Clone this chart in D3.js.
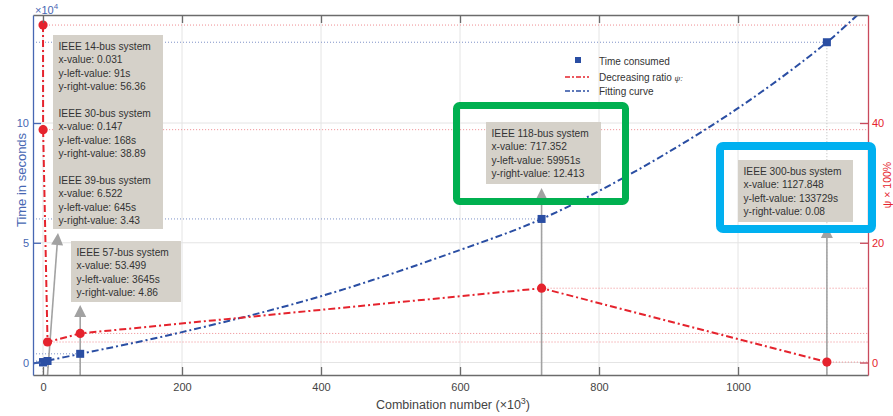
<!DOCTYPE html>
<html>
<head>
<meta charset="utf-8">
<script src="https://cdn.jsdelivr.net/npm/d3@7"></script>
<style>
  body { margin: 0; background: #fff; }
  svg { display: block; font-family: "Liberation Sans", Arial, sans-serif; }
</style>
</head>
<body>
<svg id="chart" width="893" height="416"></svg>
<script>
// Power-system test cases: combinations (x10^3), solve time (s), decreasing ratio psi (%)
const systems  = ["IEEE 14-bus system", "IEEE 30-bus system", "IEEE 39-bus system",
                  "IEEE 57-bus system", "IEEE 118-bus system", "IEEE 300-bus system"];
const combos   = [0.031, 0.147, 6.522, 53.499, 717.352, 1127.848];
const timeSec  = [91, 168, 645, 3645, 59951, 133729];
const ratioPct = [56.36, 38.89, 3.43, 4.86, 12.413, 0.08];

// Fitted time curve, sampled along its length
const fitX = [-14.4, 53.5, 200, 400, 600, 717.35, 850, 1000, 1127.85, 1187];
const fitY = [-400, 3600, 12700, 27700, 47000, 59950, 79500, 106200, 133700, 149300];

// Axis ticks
const xTicks     = [0, 200, 400, 600, 800, 1000];
const leftTicks  = [0, 50000, 100000];
const rightTicks = [0, 20, 40];

// Annotation groups (indices into the arrays above)
const noteGroups = [[0, 1, 2], [3], [4], [5]];

const BLUE = "#2a4ea3", RED = "#e5232d";
const AXBLUE = "#4767b3", AXRED = "#c94a5c";

const svg = d3.select("#chart");
const L = 33, R = 868, T = 15, B = 375;

const x  = d3.scaleLinear().domain([-14.4, 1187]).range([L, R]);
const yL = d3.scaleLinear().domain([-5200, 145100]).range([B, T]);
const yR = d3.scaleLinear().domain([-2.08, 58.04]).range([B, T]);

svg.append("defs").append("clipPath").attr("id", "plot")
  .append("rect").attr("x", L).attr("y", T).attr("width", R - L).attr("height", B - T);

// Grid
const grid = svg.append("g");
grid.selectAll("line.v").data(xTicks).join("line")
  .attr("x1", d => x(d)).attr("x2", d => x(d)).attr("y1", T).attr("y2", B)
  .attr("stroke", "#e4e4e4").attr("stroke-width", 1);
grid.selectAll("line.h").data(leftTicks).join("line")
  .attr("x1", L).attr("x2", R).attr("y1", d => yL(d)).attr("y2", d => yL(d))
  .attr("stroke", "#e4e4e4").attr("stroke-width", 1);

// Reference dotted lines
const refs = svg.append("g").attr("clip-path", "url(#plot)");
refs.selectAll("line.bt").data(combos).join("line")
  .attr("x1", L).attr("x2", (d) => x(d))
  .attr("y1", (d, i) => yL(timeSec[i])).attr("y2", (d, i) => yL(timeSec[i]))
  .attr("stroke", "#7e92c8").attr("stroke-width", 1).attr("stroke-dasharray", "1,2");
refs.selectAll("line.rr").data(combos).join("line")
  .attr("x1", d => x(d)).attr("x2", R)
  .attr("y1", (d, i) => yR(ratioPct[i])).attr("y2", (d, i) => yR(ratioPct[i]))
  .attr("stroke", "#ef8a8f").attr("stroke-width", 1).attr("stroke-dasharray", "1,2");
refs.selectAll("line.vt").data(combos).join("line")
  .attr("x1", d => x(d)).attr("x2", d => x(d))
  .attr("y1", (d, i) => yL(timeSec[i])).attr("y2", B)
  .attr("stroke", "#b8b8b8").attr("stroke-width", 1).attr("stroke-dasharray", "1,2");

// Arrows from the x axis up to the notes
const arrowTargets = [
  { from: combos[2], tipX: 58,              tipY: 233 },
  { from: combos[3], tipX: x(combos[3]),   tipY: 305 },
  { from: combos[4], tipX: x(combos[4]),   tipY: 188 },
  { from: combos[5], tipX: x(combos[5]),   tipY: 226 }
];
const arrows = svg.append("g");
arrowTargets.forEach(a => {
  const x0 = x(a.from), y0 = B;
  const dx = a.tipX - x0, dy = a.tipY - y0;
  const len = Math.hypot(dx, dy), ux = dx / len, uy = dy / len;
  const hl = 12, hw = 6;
  const bx = a.tipX - ux * hl, by = a.tipY - uy * hl;
  arrows.append("line").attr("x1", x0).attr("y1", y0).attr("x2", bx).attr("y2", by)
    .attr("stroke", "#a2a2a2").attr("stroke-width", 1.6);
  arrows.append("path")
    .attr("d", `M${a.tipX},${a.tipY}L${bx - uy * hw},${by + ux * hw}L${bx + uy * hw},${by - ux * hw}Z`)
    .attr("fill", "#a2a2a2");
});

// Curves
const plot = svg.append("g").attr("clip-path", "url(#plot)");
const fitLine = d3.line().x(d => x(d[0])).y(d => yL(d[1])).curve(d3.curveCatmullRom);
plot.append("path").datum(fitX.map((v, i) => [v, fitY[i]]))
  .attr("d", fitLine).attr("fill", "none").attr("stroke", BLUE)
  .attr("stroke-width", 2).attr("stroke-dasharray", "7,3,2,3");
const ratioLine = d3.line().x(d => x(d[0])).y(d => yR(d[1]));
plot.append("path").datum(combos.map((v, i) => [v, ratioPct[i]]))
  .attr("d", ratioLine).attr("fill", "none").attr("stroke", RED)
  .attr("stroke-width", 2).attr("stroke-dasharray", "7,3,2,3");

// Markers
svg.append("g").selectAll("rect").data(combos).join("rect")
  .attr("x", d => x(d) - 4).attr("y", (d, i) => yL(timeSec[i]) - 4)
  .attr("width", 8).attr("height", 8).attr("fill", BLUE);
svg.append("g").selectAll("circle").data(combos).join("circle")
  .attr("cx", d => x(d)).attr("cy", (d, i) => yR(ratioPct[i])).attr("r", 4.6)
  .attr("fill", RED);

// Axes
function styleAxis(g, color, textColor) {
  g.select(".domain").attr("stroke", color).attr("stroke-width", 1.3);
  g.selectAll(".tick line").attr("stroke", color).attr("stroke-width", 1.3);
  g.selectAll(".tick text").attr("fill", textColor).attr("font-size", 11)
    .attr("font-family", "Liberation Sans, Arial, sans-serif");
}
svg.append("g").attr("transform", `translate(0,${B})`)
  .call(d3.axisBottom(x).tickValues(xTicks).tickSize(-8).tickSizeOuter(0).tickPadding(8)
    .tickFormat(d3.format("d")))
  .call(g => styleAxis(g, "#6b6b6b", "#444"));
svg.append("g").attr("transform", `translate(0,${T})`)
  .call(d3.axisTop(x).tickValues(xTicks).tickSize(-8).tickSizeOuter(0).tickFormat(""))
  .call(g => styleAxis(g, "#6b6b6b", "#444"));
svg.append("g").attr("transform", `translate(${L},0)`)
  .call(d3.axisLeft(yL).tickValues(leftTicks).tickSize(-8).tickSizeOuter(0).tickPadding(4)
    .tickFormat(d => d / 10000))
  .call(g => styleAxis(g, AXBLUE, AXBLUE));
svg.append("g").attr("transform", `translate(${R},0)`)
  .call(d3.axisRight(yR).tickValues(rightTicks).tickSize(-8).tickSizeOuter(0).tickPadding(4))
  .call(g => styleAxis(g, AXRED, RED));

// Axis titles
const exp = svg.append("text").attr("x", 35).attr("y", 14).attr("fill", AXBLUE).attr("font-size", 11);
exp.append("tspan").text("\u00d710");
exp.append("tspan").attr("dy", -5).attr("font-size", 8).text("4");

svg.append("text").attr("transform", "translate(26,180) rotate(-90)")
  .attr("text-anchor", "middle").attr("fill", AXBLUE).attr("font-size", 13)
  .text("Time in seconds");
svg.append("text").attr("transform", "translate(891,185) rotate(-90)")
  .attr("text-anchor", "middle").attr("fill", RED).attr("font-size", 10.5)
  .text("\u03c8 \u00d7 100%");

const xt = svg.append("text").attr("x", 453).attr("y", 409).attr("text-anchor", "middle")
  .attr("fill", "#444").attr("font-size", 12.5);
xt.append("tspan").text("Combination number (\u00d710");
xt.append("tspan").attr("dy", -5).attr("font-size", 9).text("3");
xt.append("tspan").attr("dy", 5).text(")");

// Legend
const lg = svg.append("g").attr("font-size", 10).attr("fill", "#333");
lg.append("rect").attr("x", 575).attr("y", 57).attr("width", 6).attr("height", 6).attr("fill", BLUE);
lg.append("line").attr("x1", 565).attr("x2", 589).attr("y1", 77).attr("y2", 77)
  .attr("stroke", RED).attr("stroke-width", 1.5).attr("stroke-dasharray", "5,2,2,2");
lg.append("line").attr("x1", 565).attr("x2", 589).attr("y1", 91).attr("y2", 91)
  .attr("stroke", BLUE).attr("stroke-width", 1.5).attr("stroke-dasharray", "5,2,2,2");
lg.append("text").attr("x", 599).attr("y", 64.5).text("Time consumed");
const lgr = lg.append("text").attr("x", 599).attr("y", 80.5);
lgr.append("tspan").text("Decreasing ratio ");
lgr.append("tspan").attr("font-style", "italic").attr("font-size", 8).text("\u03c8:");
lg.append("text").attr("x", 599).attr("y", 95).text("Fitting curve");

// Note boxes
const boxes = [
  { x: 53,  y: 35,  w: 110, h: 194 },
  { x: 71,  y: 241, w: 110, h: 61 },
  { x: 486, y: 122, w: 115, h: 62 },
  { x: 738, y: 160, w: 115, h: 62 }
];
const lineH = 13.4;
noteGroups.forEach((grp, gi) => {
  const b = boxes[gi];
  const g = svg.append("g");
  g.append("rect").attr("x", b.x).attr("y", b.y).attr("width", b.w).attr("height", b.h)
    .attr("fill", "#d5d1c9");
  const lines = [];
  grp.forEach((idx, k) => {
    if (k > 0) lines.push("");
    lines.push(systems[idx]);
    lines.push(`x-value: ${combos[idx]}`);
    lines.push(`y-left-value: ${timeSec[idx]}s`);
    lines.push(`y-right-value: ${ratioPct[idx]}`);
  });
  g.selectAll("text").data(lines).join("text")
    .attr("x", b.x + 5.5).attr("y", (d, i) => b.y + 15 + i * lineH)
    .attr("font-size", 10.2).attr("fill", "#333").text(d => d);
});

// Highlight frames
svg.append("rect").attr("x", 456.5).attr("y", 105.5).attr("width", 169).attr("height", 96)
  .attr("rx", 3).attr("fill", "none").attr("stroke", "#00b050").attr("stroke-width", 7);
svg.append("rect").attr("x", 720).attr("y", 146).attr("width", 152).attr("height", 83)
  .attr("rx", 3).attr("fill", "none").attr("stroke", "#00b0f0").attr("stroke-width", 8);
</script>
</body>
</html>
